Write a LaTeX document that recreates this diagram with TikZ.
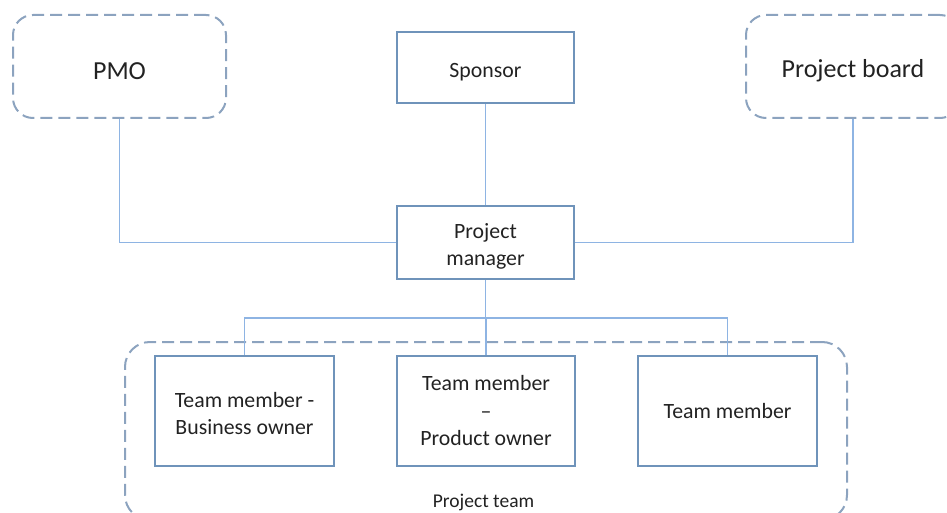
\documentclass[tikz,border=0pt]{standalone}
\usepackage{fontspec}
\setmainfont{Carlito}
\definecolor{boxline}{HTML}{6F93BA}
\definecolor{connline}{HTML}{8EB4E3}
\definecolor{dashline}{HTML}{8CA3BF}
\definecolor{txt}{HTML}{222222}
\begin{document}
\begin{tikzpicture}[x=1pt,y=-1pt,
  solidbox/.style={draw=boxline,line width=1.8pt,minimum width=177pt,minimum height=72pt,align=center,text=txt,font=\fontsize{21.8}{27.5}\selectfont,inner sep=2pt},
  dashbox/.style={draw=dashline,line width=2pt,dash pattern=on 12pt off 6pt,rounded corners=20pt,minimum width=213pt,minimum height=103pt,text=txt,font=\fontsize{26}{30}\selectfont,text height=27pt},
  conn/.style={draw=connline,line width=1.7pt}]
\useasboundingbox (0,0) rectangle (947,513);
\clip (0,0) rectangle (947,513);
% project team group
\node[draw=dashline,line width=2pt,dash pattern=on 12pt off 6pt,rounded corners=25pt,minimum width=722pt,minimum height=178pt] (team) at (486,431) {};
\node[text=txt,font=\fontsize{19.5}{22}\selectfont] (teamlabel) at (483.5,502) {Project team};
% top
\node[dashbox] (pmo) at (119.5,66.5) {PMO};
\node[dashbox,minimum width=214pt] (board) at (853,66.5) {Project board};
\node[solidbox,minimum height=71pt,text height=24pt] (sponsor) at (485.5,67.5) {Sponsor};
\node[solidbox,minimum height=73pt,text height=50pt] (pm) at (485.5,242.5) {Project\\manager};
% team members
\node[solidbox,minimum width=179pt,minimum height=110pt,text height=48pt] (t1) at (244.5,411) {Team member -\\Business owner};
\node[solidbox,minimum width=178pt,minimum height=110pt] (t2) at (486,411) {Team member\\–\\Product owner};
\node[solidbox,minimum width=179pt,minimum height=110pt] (t3) at (727.5,411) {Team member};
% connectors
\draw[conn] (sponsor.south) -- (pm.north);
\draw[conn] (pmo.south) |- (pm.west);
\draw[conn] (board.south) |- (pm.east);
\coordinate (bus) at (485.5,318);
\draw[conn] (pm.south) -- (bus);
\draw[conn] (t1.north) |- (bus) -| (t3.north);
\draw[conn] (t2.north) -- (t2.north |- bus);
\end{tikzpicture}
\end{document}
